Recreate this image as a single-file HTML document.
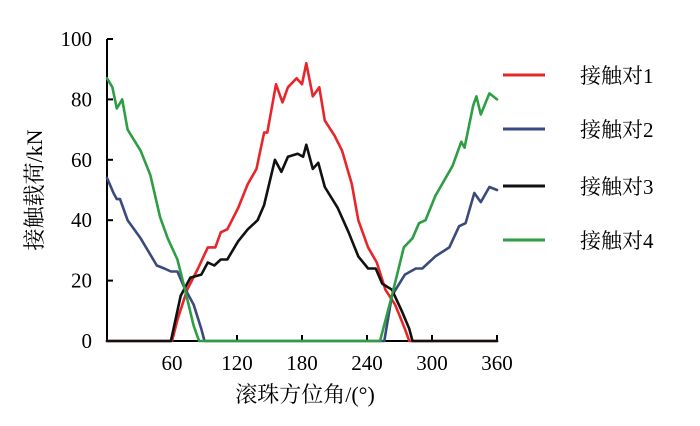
<!DOCTYPE html>
<html><head><meta charset="utf-8"><style>
body{margin:0;background:#fff;}
svg text{font-family:"Liberation Serif","Noto Serif CJK SC",serif;}
</style></head><body>
<svg width="700" height="421" xmlns="http://www.w3.org/2000/svg" id="chart">
<g id="axes"></g>
<g id="series"></g>
<g id="legend"></g>
<text x="42" y="190" font-size="22" text-anchor="middle" transform="rotate(-90 42 190)">接触载荷/kN</text>
<text x="305" y="402" font-size="22" text-anchor="middle">滚珠方位角/(°)</text>
</svg>
<script>
const xTicks=[60,120,180,240,300,360];
const yTicks=[0,20,40,60,80,100];
const seriesNames=["接触对1","接触对2","接触对3","接触对4"];
const seriesColors=["#e8262a","#3b4a7c","#111111","#2e9e45"];
const red=[[0,0],[60,0],[65,7],[74,17],[84,24],[93,31],[100,31],[105,36],[111,37],[121,44],[130,52],[138,57],[145,69],[148,69],[156,85],[162,79],[167,84],[175,87],[180,85],[184,92],[190,81],[196,84],[201,73],[210,68],[217,63],[226,52],[232,40],[241,31],[249,26],[257,17],[266,12],[275,4],[279,0],[360,0]];
const blue=[[0,54],[6,49],[9,47],[12,47],[19,40],[31,34],[46,25],[53,24],[59,23],[65,23],[71,18],[80,12],[87,4],[90,0],[256,0],[263,15],[275,22],[285,24],[291,24],[303,28],[316,31],[325,38],[331,39],[339,49],[345,46],[353,51],[360,50]];
const black=[[0,0],[59,0],[68,15],[77,21],[87,22],[93,26],[99,25],[105,27],[111,27],[121,33],[130,37],[139,40],[145,45],[155,60],[161,56],[167,61],[176,62],[181,61],[184,65],[190,57],[195,59],[201,51],[213,44],[223,36],[232,28],[241,24],[248,24],[254,19],[263,17],[272,10],[279,4],[282,0],[360,0]];
const green=[[0,87],[5,84],[9,77],[14,80],[19,70],[31,63],[40,55],[49,41],[56,34],[65,27],[72,17],[80,5],[85,0],[252,0],[263,15],[274,31],[282,34],[288,39],[294,40],[303,48],[319,58],[327,66],[330,64],[338,78],[341,81],[345,75],[353,82],[360,80]];
const allSeries=[red,blue,black,green];
const X0=107,X1=497,Y0=341,Y1=39;
const sx=v=>X0+(v/360)*(X1-X0);
const sy=v=>Y0-(v/100)*(Y0-Y1);
const NS="http://www.w3.org/2000/svg";
function mk(tag,attrs,parent){const e=document.createElementNS(NS,tag);for(const k in attrs)e.setAttribute(k,attrs[k]);parent.appendChild(e);return e;}
const ax=document.getElementById('axes');
let l=mk('line',{x1:X0,y1:Y1,x2:X0,y2:Y0+1,stroke:'#000','stroke-width':2},ax);


l=mk('line',{x1:X0-1,y1:Y0,x2:X1+1,y2:Y0,stroke:'#000','stroke-width':2},ax);


yTicks.forEach(v=>{
 if(v>0){const t=mk('line',{x1:X0,y1:sy(v),x2:X0+6,y2:sy(v),stroke:'#000','stroke-width':2},ax);
 
 }
 const tx=mk('text',{x:X0-15,y:sy(v)+7,'font-size':21,'text-anchor':'end'},ax);tx.textContent=v;
 
 
});
xTicks.forEach(v=>{
 const t=mk('line',{x1:sx(v),y1:Y0,x2:sx(v),y2:Y0-6,stroke:'#000','stroke-width':2},ax);
 
 
 const tx=mk('text',{x:sx(v),y:Y0+29,'font-size':21,'text-anchor':'middle'},ax);tx.textContent=v;
 
 
});
const sg=document.getElementById('series');
allSeries.forEach((s,i)=>{
 const p=mk('polyline',{points:s.map(d=>sx(d[0]).toFixed(1)+','+sy(d[1]).toFixed(1)).join(' '),fill:'none',stroke:seriesColors[i],'stroke-width':2.6,'stroke-linejoin':'round','stroke-linecap':'round'},sg);
 
 
});
const lg=document.getElementById('legend');
const ly=[75,129,186,240];
seriesNames.forEach((n,i)=>{
 const g=mk('g',{},lg);
 
 
 mk('line',{x1:503,y1:ly[i],x2:545,y2:ly[i],stroke:seriesColors[i],'stroke-width':3},g);
 const t=mk('text',{x:580,y:ly[i]+8,'font-size':21},g);t.textContent=n;
});
</script>
</body></html>
